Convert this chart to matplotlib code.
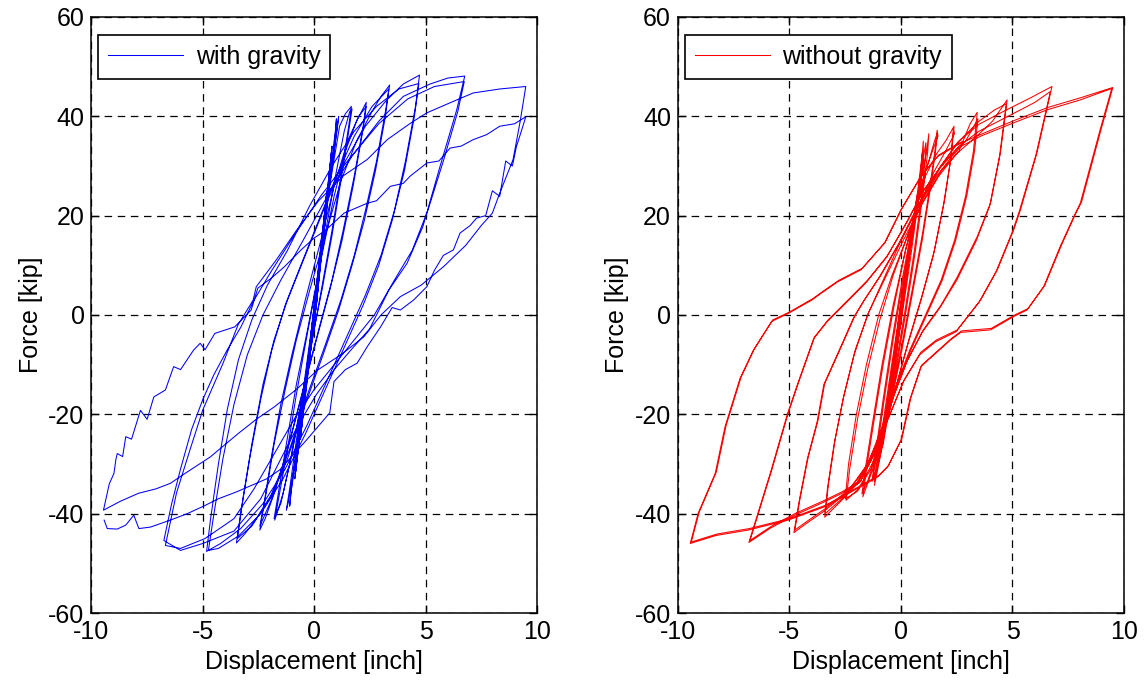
import matplotlib
matplotlib.use("Agg")
import matplotlib.pyplot as plt

plt.rcParams['font.family'] = ['Liberation Sans', 'DejaVu Sans']
plt.rcParams['axes.unicode_minus'] = False

# ---- with gravity: (displacement [inch], force [kip]) ----
grav_elastic = [(0, 0), (0.35, 15), (0.12, 3), (-0.4, -15), (-0.12, -3), (0.36, 16), (0.12, 3), (-0.42, -16), (-0.1, -2),
                (0.55, 24), (0.25, 11), (0.05, 1), (-0.6, -24), (-0.3, -11), (0.0, 0), (0.57, 25), (0.27, 11), (0.05, 1),
                (-0.62, -25), (-0.3, -11), (0.0, 0), (0.78, 33), (0.45, 18), (0.1, 2), (-0.3, -12), (-0.85, -32),
                (-0.45, -16), (0.0, 0), (0.3, 12), (0.8, 34), (0.47, 18), (0.12, 3), (-0.3, -12), (-0.87, -33),
                (-0.45, -16), (0.0, 0)]
grav_cyc_1 = [(0.4, 17), (0.95, 37), (1.0, 39.5), (0.93, 35), (0.55, 22), (0.15, 5), (-0.3, -12), (-0.75, -27),
              (-1.05, -36), (-1.1, -38.5), (-1.0, -34), (-0.6, -20), (-0.2, -6), (0.2, 8), (0.6, 23), (1.05, 38),
              (1.1, 40), (0.98, 36), (0.6, 23), (0.2, 7), (-0.3, -11), (-0.8, -28), (-1.15, -37.5), (-1.25, -39.3),
              (-1.1, -35), (-0.7, -22), (-0.25, -7), (0.2, 8), (0.7, 26)]
grav_cyc_17 = [(1.14, 38), (1.4, 40.5), (1.67, 42), (1.55, 38), (1.2, 28), (0.8, 17), (0.4, 7), (0.0, -3), (-0.5, -16),
               (-1.0, -28), (-1.4, -36), (-1.77, -41.3), (-1.6, -37), (-1.2, -27), (-0.8, -16), (-0.4, -6), (0.1, 6),
               (0.6, 19), (1.0, 29), (1.35, 37), (1.6, 41), (1.7, 41.5), (1.55, 37), (1.2, 27), (0.8, 16), (0.35, 5),
               (-0.1, -5), (-0.6, -18), (-1.1, -30), (-1.5, -38), (-1.8, -41), (-1.65, -37), (-1.25, -26), (-0.8, -14)]
grav_cyc_24 = [(-0.3, -3), (0.3, 11), (0.9, 24), (1.4, 33), (1.9, 39), (2.34, 42.8), (2.2, 38), (1.8, 28), (1.3, 17),
               (0.8, 7), (0.2, -3), (-0.5, -15), (-1.2, -27), (-1.8, -36), (-2.2, -41), (-2.44, -43.3), (-2.25, -38),
               (-1.9, -28), (-1.5, -18), (-1.0, -8), (-0.4, 3), (0.3, 15), (0.9, 26), (1.5, 35), (2.0, 40), (2.34, 42),
               (2.18, 37), (1.75, 26), (1.25, 15), (0.7, 5), (0.1, -5), (-0.6, -17), (-1.3, -29), (-1.9, -37),
               (-2.44, -42.5)]
grav_cyc_34 = [(-2.2, -37), (-1.8, -26), (-1.3, -15), (-0.8, -5), (-0.2, 5), (0.5, 16), (1.2, 27), (1.9, 35), (2.6, 41),
               (3.0, 44), (3.39, 46.3), (3.2, 41), (2.8, 31), (2.3, 21), (1.8, 12), (1.2, 3), (0.5, -6), (-0.3, -16),
               (-1.1, -27), (-1.9, -36), (-2.6, -41), (-3.1, -44), (-3.49, -45.9), (-3.3, -40), (-2.9, -29),
               (-2.4, -17), (-1.9, -7), (-1.3, 2), (-0.6, 10), (0.2, 19), (1.0, 28), (1.8, 36), (2.6, 42), (3.35, 45.5),
               (3.2, 40), (2.75, 29), (2.25, 19), (1.7, 10), (1.1, 1), (0.4, -8), (-0.4, -18), (-1.2, -29), (-2.0, -37),
               (-2.8, -42.5), (-3.45, -45)]
grav_cyc_48 = [(-3.2, -37), (-2.8, -26), (-2.3, -14), (-1.8, -5), (-1.2, 3), (-0.4, 12), (0.5, 22), (1.4, 31), (2.3, 38),
               (3.2, 43), (4.0, 46.5), (4.73, 48.3), (4.55, 42), (4.1, 31), (3.6, 21), (3.0, 12), (2.3, 4), (1.5, -4),
               (0.6, -13), (-0.3, -22), (-1.3, -31), (-2.3, -38), (-3.3, -43), (-4.2, -46), (-4.83, -47.6),
               (-4.65, -41), (-4.3, -30), (-3.9, -19), (-3.4, -9), (-2.8, -1), (-2.1, 6), (-1.2, 13), (-0.2, 22),
               (0.8, 30), (1.8, 37), (2.8, 42), (3.8, 45.5), (4.7, 46.6), (4.5, 40), (4.05, 29), (3.5, 19), (2.9, 10),
               (2.2, 2), (1.4, -6), (0.5, -15), (-0.4, -24), (-1.4, -33), (-2.4, -40), (-3.4, -44.5), (-4.3, -47),
               (-4.75, -47.4)]
grav_cyc_67 = [(-4.5, -40), (-4.1, -29), (-3.6, -18), (-3.0, -8), (-2.3, 0), (-1.5, 7), (-0.5, 15), (0.6, 24), (1.7, 32),
               (2.9, 39), (4.0, 44), (5.2, 46.5), (6.0, 47.7), (6.76, 48.1), (6.4, 41.3), (5.65, 29.9), (4.88, 17.8),
               (4.17, 10.4), (3.35, 5.0), (2.49, -2.8), (1.64, -7.1), (0.9, -11), (0.1, -16), (-0.7, -22), (-1.5, -29),
               (-2.4, -37), (-3.6, -43.5), (-5.0, -46), (-6.0, -47.4), (-6.75, -45.4), (-6.4, -38), (-6.0, -31),
               (-5.5, -23), (-5.0, -17), (-4.5, -12), (-3.9, -7), (-3.3, -2.5), (-2.7, 3), (-1.9, 9), (-0.9, 16),
               (0.3, 24), (1.5, 31), (2.9, 38.5), (4.2, 43.5), (5.4, 46), (6.74, 47.0), (6.45, 41), (5.8, 31),
               (5.1, 21), (4.4, 13), (3.6, 7), (2.7, 0), (1.8, -5), (0.9, -10), (0.0, -15), (-0.9, -21), (-1.8, -28),
               (-2.7, -35), (-3.6, -41), (-4.9, -45), (-6.0, -47), (-6.68, -46.4), (-6.18, -35.8), (-5.58, -27.2),
               (-5.0, -19.1), (-4.09, -9.7), (-3.42, -2), (-2.74, 3), (-2.6, 5.7), (-1.7, 11.1), (-0.8, 17),
               (0.2, 23), (1.3, 28), (2.38, 31.3), (3.28, 35.3), (4.32, 38.6), (5.06, 40.7), (6.4, 43.3),
               (7.14, 44.7), (8.33, 45.5), (9.5, 46.0)]
grav_cyc_95 = [(9.25, 39), (8.93, 31.3), (8.63, 27.9), (8.33, 24.5), (8.0, 20.5), (7.5, 18), (6.8, 14), (5.8, 9.7),
               (4.8, 6), (3.87, 3.7), (3.0, 0), (2.23, -4.4), (1.2, -8), (0.15, -11.1), (-0.8, -15), (-1.79, -18.5),
               (-2.6, -21), (-3.42, -23.9), (-4.67, -28.6), (-5.8, -31.9), (-6.46, -33.9), (-7.1, -35),
               (-7.89, -35.9), (-8.7, -37.5), (-9.46, -39.3), (-9.2, -34), (-8.99, -31.9), (-8.9, -29), (-8.84, -27.9),
               (-8.6, -28.5), (-8.46, -24.5), (-8.2, -25), (-7.8, -19.2), (-7.5, -21), (-7.2, -16.5), (-6.68, -15.1),
               (-6.31, -10.4), (-6.0, -11), (-5.42, -7.1), (-5.12, -5.7), (-4.9, -7), (-4.46, -3.7), (-3.57, -2.4),
               (-2.83, 1), (-2.53, 5.4), (-1.93, 7.4), (-1.34, 9.7), (-0.59, 13.1), (0.0, 15.5), (0.5, 17),
               (1.34, 20.5), (2.38, 22.5), (2.8, 23), (3.42, 25.9), (4.0, 26.5), (4.32, 28), (5.06, 30.6), (5.6, 31),
               (6.1, 33.6), (6.6, 34), (7.14, 35.3), (7.74, 36.3), (8.33, 38), (9.0, 38.5), (9.5, 39.9), (9.3, 37),
               (9.08, 33.9), (8.9, 30), (8.6, 31), (8.33, 23.9), (8.0, 25), (7.7, 20), (7.29, 19.5), (7.0, 18),
               (6.55, 16.5), (6.25, 13.1), (5.8, 12), (5.4, 9), (5.06, 5.7), (4.46, 3.0), (3.87, 1.0), (3.5, 1.5),
               (2.98, -2.4), (2.38, -6.4), (1.93, -9.7), (1.4, -11), (0.89, -13.4), (0.7, -19.7), (-0.35, -25.2),
               (-1.55, -31.2), (-2.14, -33), (-3.48, -35.6), (-4.3, -37), (-4.97, -38.5), (-5.7, -40), (-6.46, -41.3),
               (-7.35, -42.7), (-7.87, -43), (-8.1, -40.3), (-8.46, -42.3), (-8.84, -43.1), (-9.29, -43),
               (-9.43, -41.3)]

# ---- without gravity ----
nog_elastic = [(0, 0), (0.3, 10), (0.45, 15), (0.2, 6), (-0.1, -4), (-0.5, -16), (-0.25, -8), (0.05, 2), (0.47, 16),
               (0.2, 6), (-0.1, -4), (-0.52, -16), (-0.2, -6), (0.1, 4), (0.7, 23), (0.35, 11), (0.0, -1),
               (-0.4, -14), (-0.8, -25), (-0.45, -13), (-0.05, 1), (0.35, 13), (0.72, 24), (0.35, 11), (-0.05, -2),
               (-0.45, -15), (-0.82, -26), (-0.45, -13), (-0.1, -1), (0.3, 11), (0.75, 25), (0.97, 33), (0.9, 29),
               (0.6, 19), (0.2, 6), (-0.2, -7), (-0.6, -19), (-0.95, -29), (-1.19, -34.3), (-1.05, -30), (-0.7, -20),
               (-0.3, -8), (0.1, 4), (0.55, 17), (0.85, 27), (1.0, 35), (1.0, 31), (0.75, 22), (0.35, 9),
               (-0.05, -3), (-0.5, -16), (-0.9, -27), (-1.2, -33.5), (-1.1, -30), (-0.75, -20), (-0.35, -8),
               (0.05, 4), (0.5, 16), (0.85, 26)]
nog_cyc_11 = [(1.05, 33), (1.12, 34.7), (1.1, 32), (0.95, 25), (0.6, 13), (0.15, 0), (-0.35, -13), (-0.8, -25),
              (-1.1, -31), (-1.25, -33), (-1.1, -28), (-0.75, -17), (-0.35, -5), (0.1, 7), (0.55, 18), (0.9, 27),
              (1.15, 33), (1.25, 36.5), (1.2, 33), (1.0, 25), (0.65, 13), (0.2, 0), (-0.3, -13), (-0.8, -26),
              (-1.15, -32), (-1.3, -33.5), (-1.15, -28), (-0.8, -17), (-0.4, -5), (0.05, 7), (0.5, 18), (0.9, 26),
              (1.25, 31)]
nog_cyc_16 = [(1.5, 35), (1.64, 36.7), (1.55, 33), (1.3, 25), (0.95, 15), (0.5, 4), (0.0, -8), (-0.55, -20),
              (-1.1, -29), (-1.5, -34), (-1.71, -36.6), (-1.55, -31), (-1.2, -21), (-0.8, -10), (-0.3, 2), (0.2, 13),
              (0.7, 22), (1.1, 29), (1.45, 33.5), (1.66, 36), (1.62, 37.2), (1.55, 34), (1.3, 26), (0.95, 16), (0.5, 5),
              (0.0, -7), (-0.55, -19), (-1.1, -28), (-1.5, -33.5), (-1.75, -36), (-1.6, -31), (-1.25, -21),
              (-0.85, -10), (-0.35, 2), (0.15, 12), (0.65, 21), (1.1, 28), (1.6, 32.5), (2.0, 35)]
nog_cyc_24 = [(2.38, 38), (2.25, 32), (1.95, 23), (1.5, 13), (0.95, 4), (0.35, -5), (-0.2, -14), (-0.75, -23),
              (-1.3, -30), (-1.9, -35), (-2.46, -37.3), (-2.3, -31), (-1.95, -21), (-1.5, -11), (-0.95, -1),
              (-0.35, 8), (0.3, 16), (0.9, 23), (1.5, 29), (2.0, 33), (2.4, 36.5), (2.35, 37.5), (2.22, 31),
              (1.9, 22), (1.45, 12), (0.9, 3), (0.3, -6), (-0.25, -15), (-0.8, -24), (-1.35, -31), (-1.95, -35.5),
              (-2.5, -37), (-2.35, -30), (-2.0, -20), (-1.55, -10), (-1.0, 0), (-0.4, 8), (0.3, 16), (1.0, 23),
              (1.8, 29), (2.6, 33)]
nog_cyc_34 = [(3.1, 38.5), (3.42, 40.8), (3.25, 33), (2.9, 24), (2.4, 15), (1.8, 7), (1.1, 0), (0.4, -7), (-0.2, -14),
              (-0.8, -22), (-1.4, -29), (-2.0, -34), (-2.7, -37.5), (-3.42, -40.7), (-3.3, -35), (-3.0, -26),
              (-2.6, -17), (-2.1, -8), (-1.5, 0), (-0.8, 7), (0.0, 15), (0.8, 22), (1.6, 28), (2.3, 32), (2.9, 35),
              (3.45, 39.5), (3.3, 33), (2.95, 24), (2.45, 15), (1.85, 7), (1.15, 0), (0.45, -7), (-0.15, -14),
              (-0.75, -22), (-1.35, -29), (-1.95, -34), (-2.65, -37), (-3.4, -40), (-3.25, -34), (-2.95, -25),
              (-2.55, -16), (-2.05, -7), (-1.45, 0.5), (-0.7, 7.5), (0.1, 15), (0.9, 22), (1.7, 28), (2.5, 32.5),
              (3.4, 36), (4.1, 39)]
nog_cyc_48 = [(4.76, 43.3), (4.46, 32.7), (4.02, 22.6), (3.42, 15.8), (2.53, 7.7), (1.8, 2), (1.0, -3), (0.3, -9),
              (-0.3, -16), (-0.9, -24), (-1.5, -30), (-2.3, -35), (-3.4, -39), (-4.2, -41.5), (-4.76, -43.3),
              (-4.54, -37.3), (-4.16, -28.6), (-3.72, -21.2), (-3.42, -13.8), (-2.68, -6.4), (-2.08, -0.3),
              (-1.64, 3), (-0.9, 8), (0.0, 15), (0.9, 23), (1.8, 30), (2.6, 35), (3.5, 39), (4.2, 41.3),
              (4.72, 42.5), (4.42, 32), (3.98, 22), (3.38, 15), (2.5, 7), (1.75, 1.5), (0.95, -3.5), (0.25, -9.5),
              (-0.35, -16.5), (-0.95, -24.5), (-1.55, -30.5), (-2.35, -35.5), (-3.45, -39.5), (-4.25, -42),
              (-4.8, -43.8), (-4.58, -37.8), (-4.2, -29), (-3.76, -21.5), (-3.46, -14), (-2.72, -6.6), (-2.12, -0.5),
              (-1.68, 2.8), (-0.95, 7.8), (-0.05, 14.8), (0.85, 22.8), (1.75, 29.8), (2.55, 34.8), (3.5, 38.4),
              (4.6, 41), (5.8, 43.7), (6.77, 46.0)]
nog_cyc_68 = [(6.10, 32.7), (5.36, 21.2), (5.06, 17.2), (4.32, 9.1), (3.57, 3.0), (2.53, -3.0), (1.6, -5),
              (0.89, -7.5), (0.15, -13), (-0.6, -21.2), (-1.19, -27.9), (-1.79, -33.3), (-2.6, -35.5),
              (-3.42, -37.3), (-4.76, -40), (-5.8, -42.5), (-6.77, -45.4), (-6.4, -40), (-5.8, -31.3),
              (-5.06, -19.8), (-4.61, -13.8), (-3.87, -4.4), (-3.27, -1.0), (-2.38, 3.0), (-1.5, 7), (-0.6, 12),
              (0.3, 19), (1.0, 25), (1.8, 30), (2.6, 34), (3.5, 37), (4.8, 40), (6.0, 42.8), (6.7, 45.0),
              (6.05, 32.2), (5.3, 20.8), (5.0, 16.8), (4.26, 8.7), (3.5, 2.6), (2.46, -3.4), (1.55, -5.4),
              (0.84, -8), (0.1, -13.5), (-0.65, -21.6), (-1.24, -28.3), (-1.84, -33.7), (-2.65, -35.9),
              (-3.47, -37.7), (-4.81, -40.4), (-5.85, -42.9), (-6.82, -45.8), (-6.45, -40.4), (-5.85, -31.7),
              (-5.11, -20.2), (-4.66, -14.2), (-3.92, -4.8), (-3.32, -1.4), (-2.43, 2.6), (-1.55, 6.6),
              (-0.65, 11.6), (0.25, 18.6), (0.95, 24.6), (1.75, 29.6), (2.55, 33.6), (3.57, 36), (5.06, 38.7),
              (6.55, 41.3), (8.04, 43.3), (9.45, 45.6)]
nog_cyc_95 = [(8.93, 37.3), (8.04, 22.5), (7.75, 19.8), (7.14, 13.8), (6.4, 5.7), (5.65, 1), (5.06, -0.3), (4.02, -3),
              (2.68, -3.5), (2.23, -5), (0.89, -10.4), (0.4, -17), (0, -25.2), (-0.6, -30.6), (-1.04, -32.6),
              (-2.38, -36), (-3.42, -38.6), (-5.06, -41.3), (-6.85, -43.3), (-8.3, -44.4), (-9.45, -46.0),
              (-9.1, -40), (-8.33, -31.9), (-7.89, -22.5), (-7.22, -12.8), (-6.62, -7.1), (-5.8, -1.3), (-5.06, 0.3),
              (-4.0, 3), (-3.57, 4.4), (-2.83, 6.7), (-1.79, 9.1), (-0.75, 14.4), (0, 21.2), (0.89, 27.9),
              (1.64, 31.9), (2.68, 34.6), (3.6, 36.4), (5.1, 39.2), (6.6, 41.8), (8.1, 43.8), (9.5, 45.8),
              (8.98, 37.5), (8.1, 22.8), (7.8, 20.1), (7.2, 14.1), (6.45, 6.0), (5.7, 1.3), (5.1, 0.0), (4.05, -2.7),
              (2.72, -3.2), (2.27, -4.7), (0.93, -10.1), (0.44, -16.7), (0.04, -24.9), (-0.56, -30.3),
              (-1.0, -32.3), (-2.34, -35.7), (-3.38, -38.3), (-5.0, -41.0), (-6.8, -43.0), (-8.25, -44.1),
              (-9.4, -45.7), (-9.05, -39.7), (-8.28, -31.6), (-7.84, -22.2), (-7.17, -12.5), (-6.57, -6.8),
              (-5.75, -1.0), (-5.0, 0.6), (-3.95, 3.3), (-3.52, 4.7), (-2.78, 7.0), (-1.74, 9.4), (-0.7, 14.7),
              (0.05, 21.5), (0.94, 28.2), (1.69, 32.2), (2.73, 34.9)]

grav_groups = [grav_elastic, grav_cyc_1, grav_cyc_17, grav_cyc_24, grav_cyc_34, grav_cyc_48, grav_cyc_67, grav_cyc_95]
nog_groups = [nog_elastic, nog_cyc_11, nog_cyc_16, nog_cyc_24, nog_cyc_34, nog_cyc_48, nog_cyc_68, nog_cyc_95]


def draw_panel(ax, groups, color, label):
    pts = [p for g in groups for p in g]
    x, y = zip(*pts)
    ax.plot(x, y, color=color, linewidth=0.75, label=label)

    ax.set_xlim(-10, 10)
    ax.set_ylim(-60, 60)
    ax.set_xticks([-10, -5, 0, 5, 10])
    ax.set_yticks([-60, -40, -20, 0, 20, 40, 60])
    ax.grid(True, color='black', linestyle=(0, (6, 4.5)), linewidth=0.9)
    ax.tick_params(direction='in', top=True, right=True, length=6, width=1, labelsize=18, pad=5)
    for s in ax.spines.values():
        s.set_linewidth(1.1)
    ax.set_xlabel('Displacement [inch]', fontsize=18)
    ax.set_ylabel('Force [kip]', fontsize=18)

    leg = ax.legend(loc='upper left', bbox_to_anchor=(0.015, 0.97), borderaxespad=0, fontsize=18,
                    fancybox=False, edgecolor='black', framealpha=1, handlelength=3.0, handletextpad=0.5)
    leg.get_frame().set_linewidth(1.2)


fig = plt.figure(figsize=(11.46, 6.87), dpi=100)
ax1 = fig.add_axes([0.0798, 0.1077, 0.3887, 0.8676])
ax2 = fig.add_axes([0.5916, 0.1077, 0.3892, 0.8676])

draw_panel(ax1, grav_groups, '#0000ff', 'with gravity')
draw_panel(ax2, nog_groups, '#ff0000', 'without gravity')

fig.savefig('out.png', dpi=100)
